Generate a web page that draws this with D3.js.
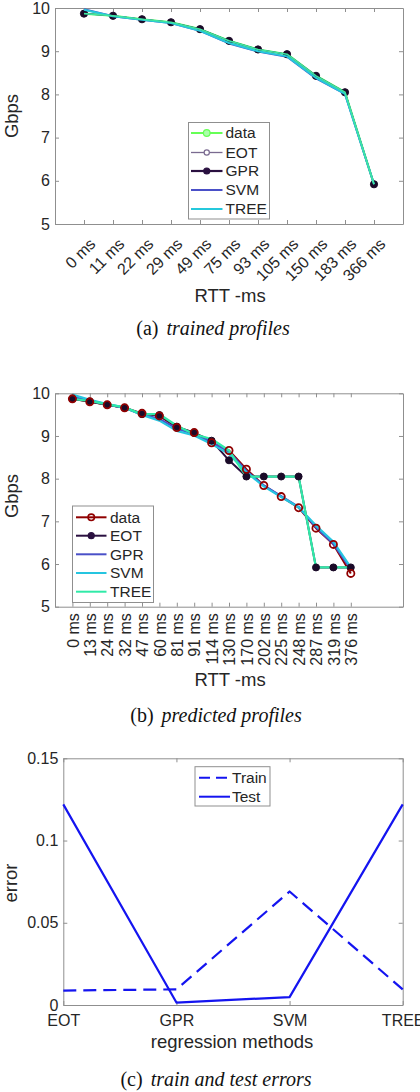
<!DOCTYPE html>
<html>
<head>
<meta charset="utf-8">
<script src="https://cdn.jsdelivr.net/npm/d3@7"></script>
<style>
  body { margin: 0; background: #fff; }
  svg { display: block; }
  .tick text { fill: #262626; }
</style>
</head>
<body>
<svg id="chart" width="420" height="1092"></svg>
<script>
// (a) trained profiles
const rttTrain = ["0 ms", "11 ms", "22 ms", "29 ms", "49 ms", "75 ms", "93 ms", "105 ms", "150 ms", "183 ms", "366 ms"];
const trainData = [9.87, 9.82, 9.74, 9.67, 9.51, 9.24, 9.04, 8.93, 8.43, 8.05, 5.92];
const trainEOT = [9.87, 9.82, 9.74, 9.67, 9.51, 9.24, 9.04, 8.93, 8.43, 8.05, 5.92];
const trainGPR = [9.87, 9.82, 9.74, 9.67, 9.51, 9.24, 9.04, 8.93, 8.43, 8.05, 5.92];
const trainSVM = [9.97, 9.81, 9.73, 9.65, 9.47, 9.18, 8.99, 8.87, 8.37, 8.01, 5.92];
const trainTREE = [9.96, 9.81, 9.73, 9.65, 9.47, 9.19, 9.00, 8.88, 8.38, 8.01, 5.92];

// (b) predicted profiles
const rttTest = ["0 ms", "13 ms", "24 ms", "32 ms", "47 ms", "60 ms", "81 ms", "91 ms", "114 ms", "130 ms", "170 ms", "202 ms", "225 ms", "248 ms", "287 ms", "319 ms", "376 ms"];
const testData = [9.87, 9.80, 9.73, 9.66, 9.53, 9.47, 9.20, 9.08, 8.84, 8.66, 8.22, 7.84, 7.58, 7.32, 6.84, 6.46, 5.78];
const testEOT = [9.87, 9.81, 9.73, 9.66, 9.51, 9.49, 9.22, 9.07, 8.89, 8.43, 8.05, 8.05, 8.05, 8.05, 5.92, 5.92, 5.92];
const testGPR = [9.92, 9.83, 9.74, 9.66, 9.50, 9.40, 9.17, 9.05, 8.86, 8.63, 8.18, 7.84, 7.59, 7.34, 6.86, 6.47, 5.88];
const testSVM = [9.97, 9.85, 9.75, 9.67, 9.49, 9.36, 9.12, 9.01, 8.81, 8.58, 8.15, 7.82, 7.57, 7.33, 6.90, 6.52, 5.92];
const testTREE = [9.87, 9.82, 9.74, 9.67, 9.51, 9.51, 9.24, 9.04, 8.93, 8.66, 8.05, 8.05, 8.05, 8.05, 5.92, 5.92, 5.92];

// (c) train and test errors
const methods = ["EOT", "GPR", "SVM", "TREE"];
const trainErr = [0.0088, 0.0095, 0.069, 0.0095];
const testErr = [0.122, 0.0015, 0.0048, 0.122];

const gbpsTicks = [5, 6, 7, 8, 9, 10];
const errTicks = [0, 0.05, 0.1, 0.15];

const svg = d3.select("#chart");
svg.append("rect").attr("width", 420).attr("height", 1092).attr("fill", "#fff");

const tickFont = "Liberation Sans, Arial, sans-serif";
const boxColor = "#8f8f8f";

// box with inward ticks on all four sides
function box(x, y, xTicks, yTicks, xFmt, yFmt) {
  const g = svg.append("g");
  const [x0, x1] = x.range();
  const [y0, y1] = y.range();
  const mk = (axis, tx, ty, labels) => {
    const a = g.append("g").attr("transform", `translate(${tx},${ty})`)
      .call(axis.tickSize(-4).tickSizeOuter(0));
    a.select(".domain").attr("stroke", boxColor);
    a.selectAll(".tick line").attr("stroke", boxColor);
    a.attr("font-family", tickFont).attr("font-size", 16);
    if (!labels) a.selectAll(".tick text").remove();
    return a;
  };
  const bottom = mk(d3.axisBottom(x).tickValues(xTicks).tickFormat(xFmt), 0, y0, true);
  mk(d3.axisTop(x).tickValues(xTicks), 0, y1, false);
  const left = mk(d3.axisLeft(y).tickValues(yTicks).tickFormat(yFmt).tickPadding(5), x0, 0, true);
  mk(d3.axisRight(y).tickValues(yTicks), x1, 0, false);
  return { bottom, left };
}

function series(g, x, y, vals, color, w, dash) {
  const line = d3.line().x((d, i) => x(i + 1)).y(d => y(d));
  g.append("path").datum(vals).attr("d", line)
    .attr("fill", "none").attr("stroke", color).attr("stroke-width", w)
    .attr("stroke-linejoin", "round")
    .attr("stroke-dasharray", dash || null);
}

function dots(g, x, y, vals, fill, stroke, r, sw) {
  g.selectAll(null).data(vals).join("circle")
    .attr("cx", (d, i) => x(i + 1)).attr("cy", d => y(d)).attr("r", r)
    .attr("fill", fill).attr("stroke", stroke).attr("stroke-width", sw);
}

function label(x, y, text, rot, size) {
  svg.append("text").attr("transform", `translate(${x},${y}) rotate(${rot || 0})`)
    .attr("text-anchor", "middle").attr("font-family", tickFont)
    .attr("font-size", size || 18.5).attr("fill", "#262626").text(text);
}

function caption(x, y, tag, text) {
  const t = svg.append("text").attr("x", x).attr("y", y).attr("text-anchor", "middle")
    .attr("font-family", "Liberation Serif, Times New Roman, serif").attr("font-size", 20).attr("fill", "#111");
  t.append("tspan").text(tag);
  t.append("tspan").attr("dx", 8).attr("font-style", "italic").text(text);
}

function legend(x0, y0, w, h, items, rows) {
  const g = svg.append("g").attr("transform", `translate(${x0},${y0})`);
  g.append("rect").attr("width", w).attr("height", h).attr("fill", "#fff").attr("stroke", boxColor);
  items.forEach((it, i) => {
    const yy = rows[i];
    g.append("line").attr("x1", it.lx0).attr("x2", it.lx1).attr("y1", yy).attr("y2", yy)
      .attr("stroke", it.color).attr("stroke-width", it.w).attr("stroke-dasharray", it.dash || null);
    if (it.r) {
      g.append("circle").attr("cx", (it.lx0 + it.lx1) / 2).attr("cy", yy).attr("r", it.r)
        .attr("fill", it.fill).attr("stroke", it.stroke || it.color).attr("stroke-width", it.sw || 1.2);
    }
    g.append("text").attr("x", it.tx).attr("y", yy).attr("dy", "0.35em")
      .attr("font-family", tickFont).attr("font-size", 15.5).attr("fill", "#262626").text(it.name);
  });
}

// ---------- (a) ----------
const xa = d3.scaleLinear().domain([0, 12]).range([55, 403]);
const ya = d3.scaleLinear().domain([5, 10]).range([224, 8]);
const axA = box(xa, ya, d3.range(1, 12), gbpsTicks, i => rttTrain[i - 1], d3.format("d"));
axA.bottom.selectAll(".tick text")
  .attr("y", null).attr("dy", null).attr("text-anchor", "end")
  .attr("transform", "translate(12,21) rotate(-45)");

const pa = svg.append("g");
series(pa, xa, ya, trainData, "#5cf55c", 2.2);
series(pa, xa, ya, trainEOT, "#7a6a90", 1.2);
series(pa, xa, ya, trainGPR, "#2a1040", 1.2);
series(pa, xa, ya, trainSVM, "#4a50c8", 2);
dots(pa, xa, ya, trainGPR, "#1a0a28", "#1a0a28", 3.6, 1);
series(pa, xa, ya, trainTREE, "#25c8dc", 2);
series(pa, xa, ya, trainData, "#3fe6a0", 1.6);

legend(188.5, 122.5, 81, 96.5, [
  { name: "data", color: "#66ff55", w: 2, r: 3.3, fill: "#aaffaa", lx0: 2.5, lx1: 34, tx: 37 },
  { name: "EOT", color: "#7a6a90", w: 1.3, r: 2.6, fill: "#fff", lx0: 2.5, lx1: 34, tx: 37 },
  { name: "GPR", color: "#2a1040", w: 2.2, r: 3, fill: "#2a1040", lx0: 2.5, lx1: 34, tx: 37 },
  { name: "SVM", color: "#4a50c8", w: 2, lx0: 2.5, lx1: 34, tx: 37 },
  { name: "TREE", color: "#25c8dc", w: 2, lx0: 2.5, lx1: 34, tx: 37 }
], [10.5, 30, 48.5, 67.5, 86.5]);

label(17.5, 116, "Gbps", -90);
label(230, 301.5, "RTT -ms");
caption(213, 335, "(a)", "trained profiles");

// ---------- (b) ----------
const xb = d3.scaleLinear().domain([0, 20]).range([55, 403]);
const yb = d3.scaleLinear().domain([5, 10]).range([606.7, 393.3]);
const axB = box(xb, yb, d3.range(1, 18), gbpsTicks, i => rttTest[i - 1], d3.format("d"));
axB.bottom.selectAll(".tick text")
  .attr("y", null).attr("dy", "0.35em").attr("text-anchor", "end")
  .attr("transform", "translate(0,6.5) rotate(-90)");

const pb = svg.append("g");
series(pb, xb, yb, testData, "#900000", 2);
series(pb, xb, yb, testEOT, "#2a1040", 2);
series(pb, xb, yb, testGPR, "#4a50c8", 2.2);
series(pb, xb, yb, testSVM, "#25c5e0", 2.2);
series(pb, xb, yb, testTREE, "#30eaa8", 2.2);
dots(pb, xb, yb, testEOT, "#1a0a28", "#1a0a28", 3.5, 1);
dots(pb, xb, yb, testData, "none", "#900000", 3.6, 1.8);

legend(72.5, 506, 81, 96.5, [
  { name: "data", color: "#900000", w: 2, r: 3.2, fill: "none", sw: 1.6, lx0: 3.5, lx1: 34, tx: 37.5 },
  { name: "EOT", color: "#2a1040", w: 2, r: 3, fill: "#2a1040", lx0: 3.5, lx1: 34, tx: 37.5 },
  { name: "GPR", color: "#4a50c8", w: 2, lx0: 3.5, lx1: 34, tx: 37.5 },
  { name: "SVM", color: "#25c5e0", w: 2, lx0: 3.5, lx1: 34, tx: 37.5 },
  { name: "TREE", color: "#30eaa8", w: 2, lx0: 3.5, lx1: 34, tx: 37.5 }
], [11.3, 29.7, 48.3, 67, 85.7]);

label(17.5, 496, "Gbps", -90);
label(230, 686, "RTT -ms");
caption(216, 722, "(b)", "predicted profiles");

// ---------- (c) ----------
const xc = d3.scaleLinear().domain([1, 4]).range([63.3, 402.7]);
const yc = d3.scaleLinear().domain([0, 0.15]).range([1005, 758.3]);
const axC = box(xc, yc, [1, 2, 3, 4], errTicks, i => methods[i - 1], d => d === 0 ? "0" : String(d));
axC.bottom.selectAll(".tick text").attr("y", 10);

const pc = svg.append("g");
series(pc, xc, yc, trainErr, "#1414f0", 2.2, "13,7");
series(pc, xc, yc, testErr, "#1414f0", 2.2);

legend(195, 766.7, 75, 39.3, [
  { name: "Train", color: "#1414f0", w: 2, dash: "11,6", lx0: 4, lx1: 35, tx: 37 },
  { name: "Test", color: "#1414f0", w: 2, lx0: 4, lx1: 35, tx: 37 }
], [11, 30]);

label(17, 883, "error", -90);
label(232, 1048, "regression methods");
caption(216, 1086, "(c)", "train and test errors");
</script>
</body>
</html>
